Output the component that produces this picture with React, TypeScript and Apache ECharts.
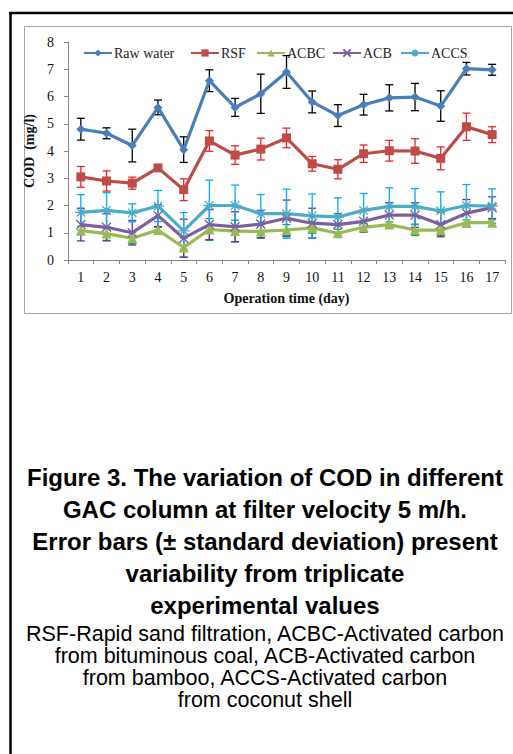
import React, { useEffect, useRef } from "react";
import * as echarts from "echarts";

const days = ["1", "2", "3", "4", "5", "6", "7", "8", "9", "10", "11", "12", "13", "14", "15", "16", "17"];
const yTicks = [0, 8, 1]; // min, max, interval

const rawWater = [4.8, 4.65, 4.2, 5.6, 4.05, 6.58, 5.6, 6.1, 6.9, 5.8, 5.3, 5.7, 5.95, 5.98, 5.65, 7.02, 6.98];
const rawWaterSd = [0.4, 0.2, 0.6, 0.27, 0.47, 0.4, 0.33, 0.72, 0.6, 0.4, 0.4, 0.38, 0.48, 0.5, 0.56, 0.23, 0.2];
const rsf = [3.05, 2.9, 2.82, 3.38, 2.58, 4.37, 3.85, 4.07, 4.48, 3.53, 3.33, 3.9, 4.01, 4.0, 3.73, 4.89, 4.6];
const rsfSd = [0.38, 0.37, 0.22, 0.08, 0.4, 0.38, 0.34, 0.4, 0.36, 0.27, 0.35, 0.32, 0.38, 0.45, 0.42, 0.5, 0.29];
const acbc = [1.08, 0.97, 0.8, 1.1, 0.46, 1.12, 1.06, 1.05, 1.1, 1.18, 0.98, 1.2, 1.3, 1.1, 1.1, 1.37, 1.37];
const acbcSd = [0.15, 0.25, 0.2, 0.1, 0.35, 0.4, 0.4, 0.25, 0.2, 0.2, 0.15, 0.15, 0.1, 0.2, 0.2, 0.1, 0.1];
const acb = [1.3, 1.2, 1.0, 1.63, 0.8, 1.3, 1.22, 1.32, 1.53, 1.35, 1.3, 1.42, 1.65, 1.65, 1.3, 1.72, 1.92];
const acbSd = [0.6, 0.5, 0.45, 0.4, 0.7, 0.55, 0.55, 0.5, 0.67, 0.55, 0.4, 0.4, 0.45, 0.45, 0.45, 0.5, 0.4];
const accs = [1.75, 1.82, 1.73, 1.98, 1.07, 2.0, 2.0, 1.7, 1.7, 1.62, 1.58, 1.82, 1.97, 1.97, 1.8, 2.0, 1.98];
const accsSd = [0.65, 0.65, 0.33, 0.57, 0.67, 0.93, 0.75, 0.7, 0.9, 0.8, 0.7, 0.62, 0.68, 0.65, 0.7, 0.77, 0.63];

const seriesNames = ["Raw water", "RSF", "ACBC", "ACB", "ACCS"];

const captionBold = [
  "Figure 3. The variation of COD in different",
  "GAC column at filter velocity 5 m/h.",
  "Error bars (± standard deviation) present",
  "variability from triplicate",
  "experimental values",
];
const captionNormal = [
  "RSF-Rapid sand filtration, ACBC-Activated carbon",
  "from bituminous coal, ACB-Activated carbon",
  "from bamboo, ACCS-Activated carbon",
  "from coconut shell",
];

const SERIF = "'Liberation Serif', 'DejaVu Serif', serif";
const SANS = "'Liberation Sans', Arial, sans-serif";
const legendLefts = [83, 190, 256, 332, 400];

export default function App() {
  const ref = useRef<HTMLDivElement>(null);
  useEffect(() => {
    document.body.style.margin = "0";
    const chart = echarts.init(ref.current!, null, { renderer: "svg" });

    const groups = [
      { name: "Raw water", values: rawWater, sd: rawWaterSd, color: "#4A7EBB", err: "#000000", symbol: "diamond", size: 9 },
      { name: "RSF", values: rsf, sd: rsfSd, color: "#BE4B48", err: "#E8262B", symbol: "rect", size: 9 },
      { name: "ACBC", values: acbc, sd: acbcSd, color: "#98B954", err: "#00B050", symbol: "triangle", size: 10 },
      { name: "ACB", values: acb, sd: acbSd, color: "#7D5FA0", err: "#7030A0", symbol: "path://M1,1L9,9M9,1L1,9", size: 9 },
      { name: "ACCS", values: accs, sd: accsSd, color: "#4AACC5", err: "#00B0F0", symbol: "path://M0,5L10,5M5,0L5,10M1.5,1.5L8.5,8.5M8.5,1.5L1.5,8.5", size: 12 },
    ];

    const errSeries = groups.map((g) => ({
      type: "custom",
      name: g.name + " SD",
      z: 1,
      silent: true,
      data: g.values.map((v, i) => [i, v - g.sd[i], v + g.sd[i]]),
      encode: { x: 0, y: [1, 2] },
      renderItem: (params: any, api: any) => {
        const x = api.value(0);
        const lo = api.coord([x, api.value(1)]);
        const hi = api.coord([x, api.value(2)]);
        const w = 4;
        const st = { stroke: g.err, lineWidth: 1.3 };
        return {
          type: "group",
          children: [
            { type: "line", shape: { x1: lo[0], y1: lo[1], x2: hi[0], y2: hi[1] }, style: st },
            { type: "line", shape: { x1: lo[0] - w, y1: lo[1], x2: lo[0] + w, y2: lo[1] }, style: st },
            { type: "line", shape: { x1: hi[0] - w, y1: hi[1], x2: hi[0] + w, y2: hi[1] }, style: st },
          ],
        };
      },
    }));

    const lineSeries = groups.map((g) => ({
      type: "line",
      name: g.name,
      z: 3,
      data: g.values,
      symbol: g.symbol,
      symbolSize: g.size,
      showAllSymbol: true,
      lineStyle: { color: g.color, width: 3.2 },
      itemStyle: { color: g.color, borderColor: g.color, borderWidth: g.symbol.startsWith("path") ? 1.3 : 0 },
    }));

    const graphics: any[] = [
      { type: "rect", shape: { x: 24.5, y: 26.5, width: 487, height: 287 }, style: { fill: "none", stroke: "#A6A6A6", lineWidth: 1 }, z: -1 },
      { type: "line", shape: { x1: 10.5, y1: 12, x2: 10.5, y2: 754 }, style: { stroke: "#000", lineWidth: 2.5 } },
      { type: "line", shape: { x1: 9.2, y1: 13, x2: 513, y2: 13 }, style: { stroke: "#000", lineWidth: 2.5 } },
    ];
    captionBold.forEach((t, i) => {
      graphics.push({
        type: "text",
        style: {
          text: t, x: 265, y: 477 + i * 32, textAlign: "center", textVerticalAlign: "middle",
          fontFamily: SANS, fontWeight: "bold", fontSize: 24, fill: "#000",
        },
      });
    });
    captionNormal.forEach((t, i) => {
      graphics.push({
        type: "text",
        style: {
          text: t, x: 265, y: 634 + i * 22, textAlign: "center", textVerticalAlign: "middle",
          fontFamily: SANS, fontSize: 21.5, fill: "#000",
        },
      });
    });

    const legends = seriesNames.map((n, i) => ({
      data: [n],
      left: legendLefts[i],
      top: 46,
      padding: 0,
      itemWidth: 28,
      itemHeight: 9,
      textStyle: { fontFamily: SERIF, fontSize: 14, color: "#222", padding: [0, 0, 0, -3] },
    }));

    chart.setOption({
      animation: false,
      backgroundColor: "#fff",
      grid: { left: 68, top: 42, width: 437, height: 218, containLabel: false },
      legend: legends,
      xAxis: {
        type: "category",
        data: days,
        boundaryGap: true,
        name: "Operation time (day)",
        nameLocation: "middle",
        nameGap: 31,
        nameTextStyle: { fontFamily: SERIF, fontSize: 14, fontWeight: "bold", color: "#111" },
        axisLine: { lineStyle: { color: "#868686", width: 1 } },
        axisTick: { show: true, length: 4, lineStyle: { color: "#868686" } },
        axisLabel: { fontFamily: SERIF, fontSize: 14, color: "#111", margin: 10 },
      },
      yAxis: {
        type: "value",
        min: yTicks[0],
        max: yTicks[1],
        interval: yTicks[2],
        name: "COD  (mg/l)",
        nameLocation: "middle",
        nameGap: 23,
        nameTextStyle: { fontFamily: SERIF, fontSize: 14, fontWeight: "bold", color: "#111" },
        axisLine: { show: true, lineStyle: { color: "#868686", width: 1 } },
        axisTick: { show: true, length: 4, lineStyle: { color: "#868686" } },
        axisLabel: { fontFamily: SERIF, fontSize: 14, color: "#111", margin: 14 },
        splitLine: { show: false },
      },
      graphic: graphics,
      series: [...errSeries, ...lineSeries],
    });
    return () => chart.dispose();
  }, []);
  return <div ref={ref} style={{ width: 513, height: 754, position: "absolute", left: 0, top: 0 }} />;
}
